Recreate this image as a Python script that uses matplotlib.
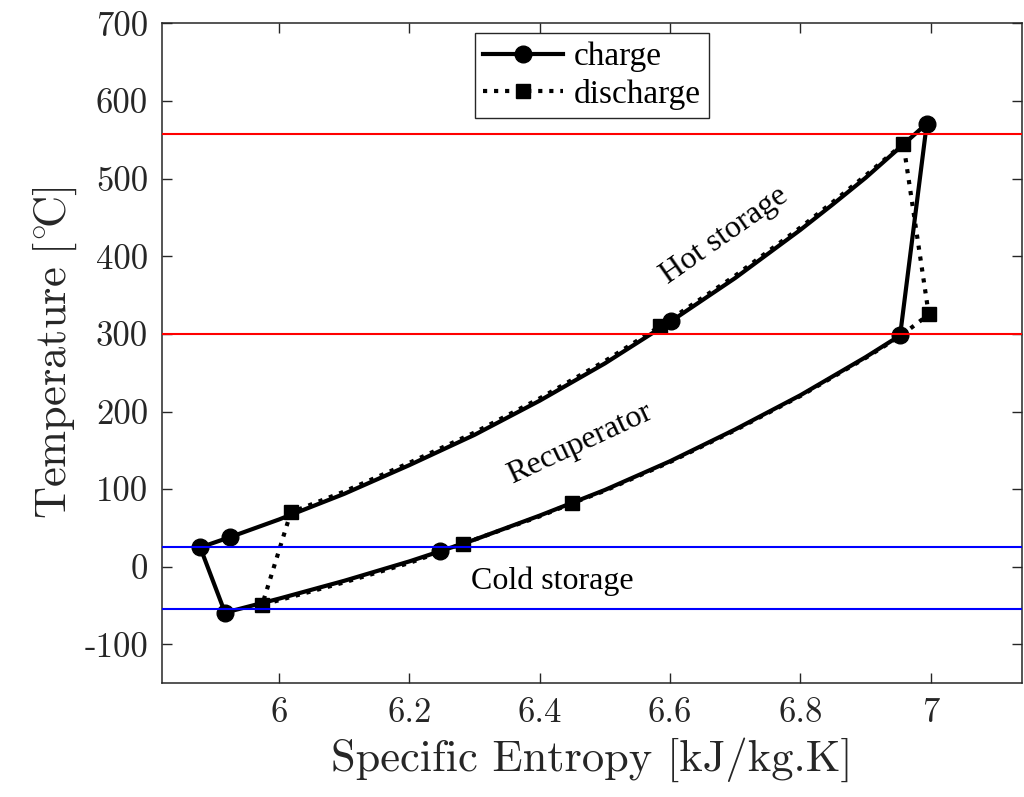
import numpy as np
import matplotlib
matplotlib.use('Agg')
import matplotlib.pyplot as plt

plt.rcParams['font.family'] = 'cmr10'
plt.rcParams['mathtext.fontset'] = 'cm'
plt.rcParams['axes.unicode_minus'] = False
plt.rcParams['axes.formatter.use_mathtext'] = True

# charge cycle (solid, circles)
s_charge = [6.994, 6.958, 6.9, 6.85, 6.8, 6.7, 6.601, 6.5, 6.4, 6.3, 6.2, 6.1, 6.0, 5.924, 5.879,
            5.917, 6.0, 6.1, 6.2, 6.247, 6.3, 6.4, 6.5, 6.6, 6.7, 6.8, 6.9, 6.953, 6.994]
T_charge = [571, 544, 501, 467, 434, 372, 316, 262, 214, 170, 131, 94, 61, 38, 25,
            -59, -41, -18, 7, 20, 35, 66, 99, 136, 177, 221, 270, 298, 571]
charge_marks = [0, 6, 13, 14, 15, 19, 27]

# discharge cycle (dotted, squares)
s_discharge = [6.958, 6.9, 6.85, 6.8, 6.7, 6.585, 6.5, 6.4, 6.3, 6.2, 6.1, 6.018,
               5.974, 6.0, 6.1, 6.2, 6.283, 6.4, 6.45, 6.5, 6.6, 6.7, 6.8, 6.9, 6.953, 6.997, 6.958]
T_discharge = [545, 504, 470, 437, 375, 310, 265, 217, 173, 134, 97, 70,
               -49, -43, -20, 5, 30, 65, 82, 98, 135, 176, 220, 269, 297, 325, 545]
discharge_marks = [0, 5, 11, 12, 16, 18, 25]

hot_levels = [557, 300]
cold_levels = [25, -54]

fig = plt.figure(figsize=(10.24, 7.97), dpi=100)
ax = fig.add_axes([0.158, 0.1427, 0.840, 0.828])

ax.plot(s_charge, T_charge, '-', color='k', lw=3, marker='o', ms=12,
        markevery=charge_marks, label='charge', zorder=3)
ax.plot(s_discharge, T_discharge, ':', color='k', lw=3, marker='s', ms=9.5,
        markevery=discharge_marks, label='discharge', zorder=3)

for y in hot_levels:
    ax.axhline(y, color='#ff0000', lw=1.5, zorder=4)
for y in cold_levels:
    ax.axhline(y, color='#0000ff', lw=1.5, zorder=4)

ax.set_xlim(5.82, 7.14)
ax.set_ylim(-150, 700)
ax.set_xticks([6, 6.2, 6.4, 6.6, 6.8, 7])
ax.set_xticklabels(['6', '6.2', '6.4', '6.6', '6.8', '7'])
ax.set_yticks(np.arange(-100, 701, 100))
ax.set_yticklabels([str(v) for v in range(-100, 701, 100)])

ax.tick_params(direction='in', length=7, width=1, top=True, right=True,
               labelsize=25, colors='#262626', pad=10)
for sp in ax.spines.values():
    sp.set_color('#262626')
    sp.set_linewidth(1.1)

ax.set_xlabel('Specific Entropy [kJ/kg.K]', fontsize=32, color='#262626', labelpad=6)
ax.set_ylabel(r'$\mathrm{Temperature\ [^{\circ}\!C]}$', fontsize=32, color='#262626')

serif = 'Liberation Serif'
ax.text(6.684, 427, 'Hot storage', family=serif, fontsize=23, rotation=35,
        ha='center', va='center')
ax.text(6.462, 158, 'Recuperator', family=serif, fontsize=23, rotation=25,
        ha='center', va='center')
ax.text(6.419, -18, 'Cold storage', family=serif, fontsize=23,
        ha='center', va='center')

leg = ax.legend(loc='upper center', prop={'family': serif, 'size': 24},
                fancybox=False, framealpha=1, edgecolor='#262626',
                handlelength=2.4, handletextpad=0.3, labelspacing=0.2,
                borderpad=0.25, borderaxespad=0.3)
leg.get_frame().set_linewidth(1)

fig.savefig('out.png', dpi=100)
